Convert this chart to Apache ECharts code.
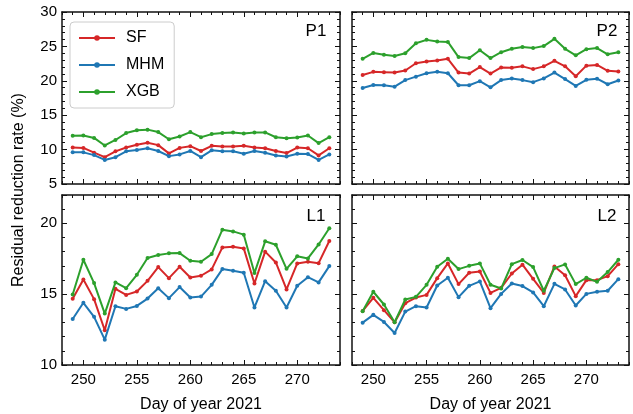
<!DOCTYPE html>
<html>
<head>
<meta charset="utf-8">
<script src="https://cdn.jsdelivr.net/npm/echarts@6/dist/echarts.min.js"></script>
<style>
  html, body { margin: 0; padding: 0; background: #fff; }
  #chart { width: 633px; height: 414px; }
</style>
</head>
<body>
<div id="chart"></div>
<script>
// Day of year 2021
const days = [249, 250, 251, 252, 253, 254, 255, 256, 257, 258, 259, 260, 261,
              262, 263, 264, 265, 266, 267, 268, 269, 270, 271, 272, 273];
const xTickValues = [250, 255, 260, 265, 270];

// Residual reduction rate (%) per site and method
const p1SF  = [10.3, 10.25, 9.55, 8.9, 9.75, 10.3, 10.7, 11.0, 10.65, 9.45, 10.25, 10.5, 9.8, 10.55, 10.45, 10.45, 10.55, 10.3, 10.2, 9.8, 9.5, 10.3, 10.2, 9.15, 10.2];
const p1MHM = [9.6, 9.6, 9.2, 8.5, 8.9, 9.75, 9.95, 10.2, 9.8, 9.05, 9.3, 9.8, 8.9, 9.9, 9.75, 9.75, 9.4, 9.8, 9.55, 9.15, 9.0, 9.4, 9.35, 8.5, 9.3];
const p1XGB = [12.0, 12.05, 11.7, 10.6, 11.4, 12.4, 12.8, 12.9, 12.55, 11.5, 11.9, 12.55, 11.8, 12.25, 12.4, 12.5, 12.35, 12.5, 12.5, 11.8, 11.65, 11.75, 12.05, 10.95, 11.8];

const p2SF  = [20.85, 21.3, 21.25, 21.2, 21.5, 22.55, 22.8, 22.95, 23.2, 21.2, 21.05, 22.0, 21.05, 21.95, 21.9, 22.1, 21.7, 22.1, 22.9, 22.1, 20.65, 22.2, 22.3, 21.45, 21.35];
const p2MHM = [18.95, 19.4, 19.35, 19.15, 20.1, 20.6, 21.1, 21.3, 21.1, 19.35, 19.35, 19.95, 19.05, 20.1, 20.35, 20.1, 19.8, 20.35, 21.2, 20.25, 19.25, 20.15, 20.3, 19.5, 20.05];
const p2XGB = [23.2, 24.05, 23.8, 23.6, 24.0, 25.45, 25.95, 25.7, 25.65, 23.45, 23.3, 24.45, 23.3, 24.15, 24.65, 24.9, 24.75, 25.05, 26.1, 24.65, 23.7, 24.6, 24.75, 23.85, 24.15];

const l1SF  = [14.67, 16.04, 14.65, 12.45, 15.38, 14.95, 15.19, 15.94, 16.91, 16.13, 16.93, 16.18, 16.3, 16.75, 18.3, 18.35, 18.23, 15.75, 18.0, 17.24, 15.33, 17.17, 17.29, 17.19, 18.75];
const l1MHM = [13.25, 14.39, 13.4, 11.79, 14.15, 13.96, 14.17, 14.69, 15.42, 14.72, 15.5, 14.76, 14.83, 15.66, 16.77, 16.65, 16.51, 14.06, 15.92, 15.24, 14.06, 15.59, 16.2, 15.83, 16.98];
const l1XGB = [14.98, 17.43, 15.78, 13.63, 15.83, 15.42, 16.37, 17.55, 17.76, 17.88, 17.9, 17.36, 17.29, 17.83, 19.55, 19.43, 19.2, 16.49, 18.73, 18.49, 16.79, 17.67, 17.52, 18.51, 19.65];

const l2SF  = [13.82, 14.74, 13.87, 13.02, 14.36, 14.76, 14.95, 16.13, 17.17, 15.71, 16.51, 16.6, 15.09, 15.45, 16.46, 17.08, 16.08, 15.09, 16.96, 16.34, 14.86, 15.99, 15.99, 16.27, 17.12];
const l2MHM = [12.99, 13.54, 13.04, 12.26, 13.77, 14.15, 14.06, 15.61, 16.16, 14.79, 15.59, 15.9, 14.01, 15.02, 15.75, 15.57, 15.12, 14.15, 15.73, 15.33, 14.2, 15.02, 15.17, 15.24, 16.06];
const l2XGB = [13.8, 15.17, 14.27, 13.02, 14.62, 14.81, 15.66, 16.93, 17.5, 16.77, 17.0, 17.17, 15.66, 15.4, 17.12, 17.41, 16.91, 15.24, 16.84, 17.1, 15.71, 16.16, 15.87, 16.56, 17.43];

const panelNames = ['P1', 'P2', 'L1', 'L2'];
const methodNames = ['SF', 'MHM', 'XGB'];
const methodColors = ['#d62728', '#1f77b4', '#2ca02c'];
const panelData = [
  [p1SF, p1MHM, p1XGB],
  [p2SF, p2MHM, p2XGB],
  [l1SF, l1MHM, l1XGB],
  [l2SF, l2MHM, l2XGB]
];
const yRanges = [[5, 30], [5, 30], [10, 22], [10, 22]];

const FONT = 'Liberation Sans, Arial, sans-serif';
const INK = '#111';

const grids = [
  { left: 62,  top: 12,  width: 278, height: 172 },
  { left: 352, top: 12,  width: 277, height: 172 },
  { left: 62,  top: 195, width: 278, height: 172 },
  { left: 352, top: 195, width: 277, height: 172 }
];

const xAxes = [];
const yAxes = [];
grids.forEach((g, i) => {
  const bottomRow = i >= 2;
  const leftCol = i % 2 === 0;
  const [ymin, ymax] = yRanges[i];
  ['bottom', 'top'].forEach(pos => {
    const main = pos === 'bottom';
    xAxes.push({
      gridIndex: i, type: 'value', position: pos, min: 248, max: 274,
      axisLine: { show: true, onZero: false, lineStyle: { color: INK, width: 1.5 } },
      axisTick: { show: true, inside: true, length: 5, customValues: xTickValues, lineStyle: { color: INK, width: 1 } },
      axisLabel: {
        show: main && bottomRow, customValues: xTickValues, margin: 7,
        color: '#000', fontSize: 15, fontFamily: FONT
      },
      splitLine: { show: false },
      name: main && bottomRow ? 'Day of year 2021' : '',
      nameLocation: 'middle', nameGap: 32,
      nameTextStyle: { color: '#000', fontSize: 16, fontFamily: FONT }
    });
    xAxes.push({
      gridIndex: i, type: 'value', position: pos, min: 248, max: 274, interval: 1,
      axisLine: { show: false, onZero: false },
      axisTick: { show: true, inside: true, length: 3, lineStyle: { color: INK, width: 1 } },
      axisLabel: { show: false },
      splitLine: { show: false }
    });
  });
  ['left', 'right'].forEach(pos => {
    const main = pos === 'left';
    yAxes.push({
      gridIndex: i, type: 'value', position: pos, min: ymin, max: ymax, interval: 5,
      axisLine: { show: true, onZero: false, lineStyle: { color: INK, width: 1.5 } },
      axisTick: { show: true, inside: true, length: 5, lineStyle: { color: INK, width: 1 } },
      axisLabel: {
        show: main && leftCol, margin: 5, color: '#000', fontSize: 15, fontFamily: FONT,
        formatter: v => (v % 5 === 0 ? String(v) : '')
      },
      splitLine: { show: false }
    });
    yAxes.push({
      gridIndex: i, type: 'value', position: pos, min: ymin, max: ymax, interval: 1,
      axisLine: { show: false, onZero: false },
      axisTick: { show: true, inside: true, length: 3, lineStyle: { color: INK, width: 1 } },
      axisLabel: { show: false },
      splitLine: { show: false }
    });
  });
});

const series = [];
panelData.forEach((sets, i) => {
  sets.forEach((vals, m) => {
    series.push({
      name: methodNames[m], type: 'line',
      xAxisIndex: i * 4, yAxisIndex: i * 4,
      data: days.map((d, k) => [d, vals[k]]),
      symbol: 'circle', symbolSize: 4, showSymbol: true,
      color: methodColors[m],
      lineStyle: { width: 2, color: methodColors[m] },
      itemStyle: { color: methodColors[m], borderWidth: 0 },
      animation: false, z: 2 + m
    });
  });
});

const labelPos = [[316, 31], [607, 31], [316, 216], [607, 216]];
const graphics = panelNames.map((t, i) => ({
  type: 'text', x: labelPos[i][0], y: labelPos[i][1],
  style: { text: t, fill: '#000', font: '17px ' + FONT, textAlign: 'center', textVerticalAlign: 'middle' }
}));
graphics.push({
  type: 'text', x: 19, y: 190, rotation: Math.PI / 2,
  style: { text: 'Residual reduction rate (%)', fill: '#000', font: '16px ' + FONT,
           textAlign: 'center', textVerticalAlign: 'middle' }
});

const chart = echarts.init(document.getElementById('chart'), null, { renderer: 'canvas' });
chart.setOption({
  animation: false,
  backgroundColor: '#fff',
  textStyle: { fontFamily: FONT },
  grid: grids,
  xAxis: xAxes,
  yAxis: yAxes,
  legend: {
    data: methodNames, orient: 'vertical', left: 70, top: 22,
    itemWidth: 36, itemHeight: 7, itemGap: 11,
    padding: [8, 10, 8, 8],
    borderColor: '#ccc', borderWidth: 1, borderRadius: 4,
    backgroundColor: 'rgba(255,255,255,0.9)',
    textStyle: { fontSize: 16, color: '#000', fontFamily: FONT, padding: [0, 0, 0, 6] }
  },
  graphic: graphics,
  series: series
});
</script>
</body>
</html>
